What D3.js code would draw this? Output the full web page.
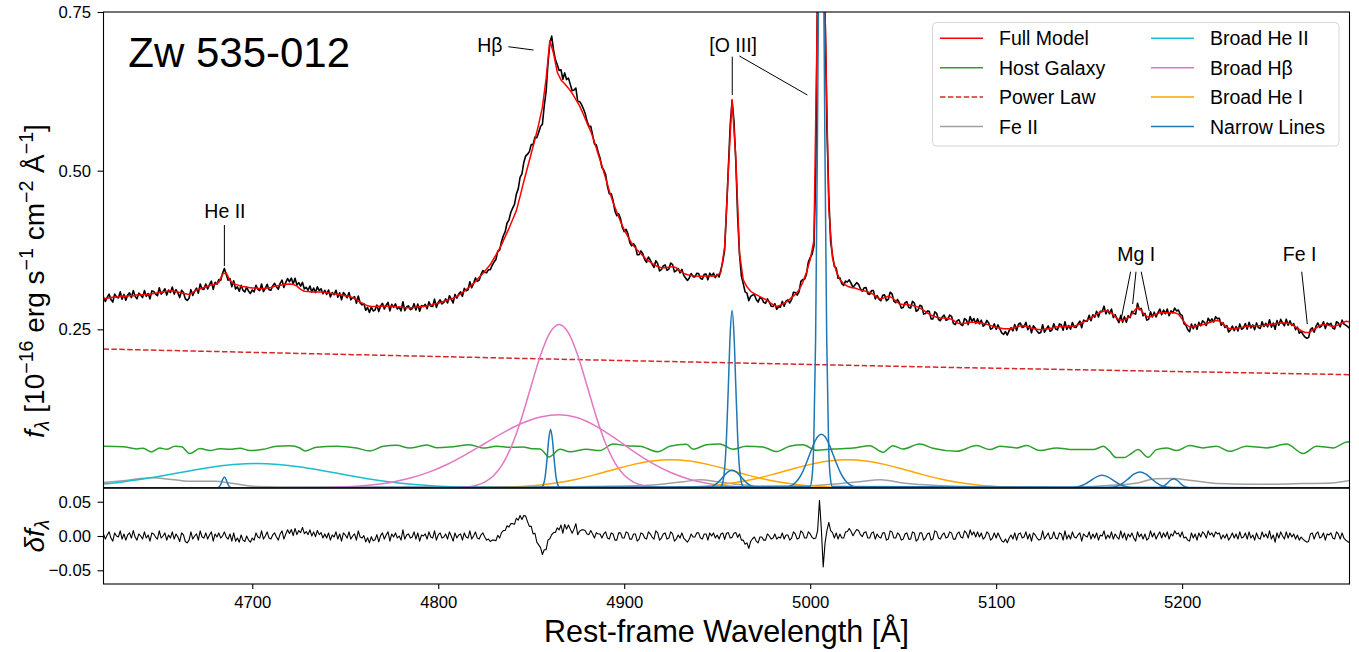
<!DOCTYPE html>
<html><head><meta charset="utf-8">
<script src="https://cdn.jsdelivr.net/npm/d3@7"></script>
<style>
body{margin:0;background:#fff}
svg{display:block}
text{font-family:"Liberation Sans",Arial,Helvetica,sans-serif;fill:#000}
</style>
</head><body>
<svg id="chart" width="1359" height="652"></svg>
<script>
// ---------------- DATA ----------------
// observed spectrum and residuals: regular 1 A grid starting at 4620 A
const specStart = 4620, specStep = 1;
const flux = [
.301,.294,.3005,.3055,.297,.293,.3055,.301,.2995,.309,
.2975,.305,.296,.304,.3075,.300,.311,.302,.298,.307,
.304,.300,.311,.302,.3065,.298,.3105,.3095,.3055,.303,
.3155,.3055,.309,.314,.304,.312,.308,.3165,.3055,.3125,
.3075,.300,.3115,.308,.298,.2955,.299,.3125,.3035,.310,
.315,.307,.3215,.3135,.313,.3215,.3135,.3205,.326,.313,
.324,.321,.3285,.327,.338,.346,.3365,.3275,.330,.317,
.3265,.3135,.317,.310,.3195,.3115,.309,.3165,.310,.3065,
.312,.309,.3195,.313,.311,.3215,.3095,.3145,.321,.3125,
.3115,.3185,.3225,.317,.313,.3225,.3275,.316,.324,.330,
.325,.3307,.3215,.3305,.320,.3235,.318,.324,.3135,.3162,
.3115,.3182,.309,.315,.308,.317,.311,.314,.306,.3115,
.305,.312,.301,.308,.3045,.3115,.3005,.3075,.2965,.308,
.3045,.2995,.308,.2965,.300,.3015,.291,.3025,.2915,.2885,
.2905,.280,.2845,.2765,.285,.279,.2805,.2882,.278,.287,
.291,.282,.288,.2925,.2791,.2893,.2845,.290,.282,.285,
.279,.2935,.2795,.2855,.287,.281,.2825,.2905,.2805,.290,
.2785,.2875,.286,.2895,.2825,.2935,.2865,.286,.2975,.2845,
.2925,.2965,.290,.2925,.298,.2915,.303,.298,.2915,.305,
.299,.3055,.309,.302,.3145,.311,.312,.325,.3155,.3225,
.331,.3255,.3275,.3365,.3425,.340,.339,.344,.344,.351,
.356,.360,.373,.3745,.388,.3975,.404,.4175,.422,.434,
.441,.447,.463,.471,.4895,.495,.513,.523,.526,.530,
.541,.541,.553,.552,.560,.5695,.573,.6025,.625,.669,
.701,.712,.690,.675,.667,.658,.659,.644,.654,.6435,
.646,.636,.626,.627,.630,.609,.609,.6045,.598,.590,
.578,.5705,.570,.5565,.542,.5405,.529,.520,.505,.501,
.494,.475,.4635,.4635,.453,.4365,.429,.432,.4245,.4105,
.404,.4075,.4005,.3865,.3815,.385,.381,.3675,.3675,.3735,
.369,.360,.3555,.364,.359,.3525,.3475,.358,.3535,.342,
.344,.350,.3515,.343,.345,.3545,.352,.3405,.3425,.346,
.339,.3445,.335,.331,.327,.331,.338,.333,.3325,.3382,
.338,.3305,.329,.3367,.337,.328,.3385,.334,.3385,.3315,
.3365,.3325,.344,.3565,.375,.437,.505,.572,.610,.579,
.515,.428,.368,.334,.322,.309,.307,.295,.302,.304,
.3045,.297,.293,.300,.2985,.2925,.291,.298,.293,.2865,
.286,.2905,.2815,.2855,.285,.294,.2865,.2945,.2965,.2915,
.297,.3085,.308,.304,.309,.3255,.3285,.329,.337,.356,
.363,.368,.381,.497,.808,1.302,1.460,1.155,.750,.568,
.460,.388,.367,.349,.3465,.3305,.331,.322,.319,.326,
.3245,.328,.3225,.316,.320,.3235,.321,.314,.310,.3155,
.316,.306,.305,.311,.311,.298,.303,.2975,.295,.3035,
.3045,.295,.2975,.3085,.306,.2945,.292,.297,.2915,.2835,
.2845,.292,.2935,.2845,.2835,.294,.2915,.2785,.2805,.288,
.2865,.274,.275,.279,.2785,.2665,.2665,.2775,.275,.2655,
.2635,.2695,.2725,.2645,.2655,.2725,.2705,.2595,.2575,.2635,
.265,.2575,.256,.267,.2645,.2575,.270,.2625,.267,.2592,
.2665,.2587,.2645,.255,.2575,.264,.260,.250,.252,.2585,
.250,.257,.2505,.2445,.242,.2465,.241,.248,.2525,.2475,
.2575,.248,.258,.260,.253,.254,.261,.2495,.256,.2445,
.2555,.252,.247,.2437,.245,.2572,.2455,.2505,.2555,.247,
.249,.2587,.2505,.2492,.2585,.2572,.2485,.262,.250,.2561,
.2502,.2608,.2535,.253,.2585,.263,.2525,.2645,.263,.263,
.272,.2635,.273,.269,.2785,.2695,.2785,.278,.2865,.2745,
.2805,.2745,.282,.2685,.273,.266,.2605,.272,.261,.270,
.261,.2715,.2685,.2785,.275,.274,.291,.281,.283,.2715,
.275,.2645,.266,.2775,.2695,.277,.2695,.2765,.282,.273,
.2805,.2745,.282,.2715,.279,.276,.2835,.279,.2805,.2735,
.272,.259,.2565,.2498,.2462,.2583,.251,.258,.250,.261,
.2555,.2635,.261,.256,.2675,.2625,.2665,.2615,.270,.2665,
.2675,.2565,.2605,.253,.256,.2458,.2491,.2553,.248,.2545,
.2475,.2585,.250,.2523,.2592,.2503,.261,.2522,.257,.2495,
.2601,.2527,.2513,.2619,.2545,.2595,.254,.265,.2535,.260,
.250,.2637,.2565,.2657,.260,.2555,.266,.2565,.2635,.256,
.259,.2495,.2535,.244,.2465,.242,.238,.236,.237,.2495,
.2525,.2455,.255,.260,.253,.2552,.262,.2512,.260,.2575,
.2595,.252,.2505,.262,.260,.254,.2645,.2583,.2566,.2543,
.252];

const residual = [
.003,-.0045,.0015,.006,-.003,-.0075,.0045,0,-.0015,.0075,
-.0045,.003,-.006,.0015,.0045,-.003,.008,-.0015,-.006,.003,
0,-.0045,.006,-.003,.0015,-.0075,.0045,.003,-.0015,-.0045,
.0075,-.003,0,.0045,-.006,.0015,-.003,.006,-.0045,.003,
-.0015,-.008,.0045,.0015,-.008,-.010,-.006,.006,-.0045,0,
.003,-.006,.0075,-.0015,-.003,.0045,-.0045,.0015,.006,-.0075,
.003,-.0015,.0045,-.003,0,.006,-.0015,-.0045,.003,-.0075,
.0045,-.0075,-.003,-.009,.0015,-.006,-.008,0,-.006,-.009,
-.003,-.006,.0045,-.0015,-.003,.0075,-.0045,0,.006,-.003,
-.0045,.0015,.0045,-.0015,-.006,.003,.0075,-.0045,.003,.009,
.0035,.0095,.0005,.011,.002,.008,.005,.0125,.0035,.0065,
.002,.009,0,.006,-.001,.008,.002,.005,-.003,.003,
-.003,.0045,-.006,.0015,-.0015,.006,-.0045,.003,-.0075,.0045,
.0015,-.003,.006,-.0045,0,.003,-.006,.0075,-.0015,-.003,
.0005,-.0085,-.0025,-.010,-.001,-.007,-.0055,.002,-.0085,.0005,
.0045,-.0045,.0015,.006,-.0075,.003,-.0015,.0045,-.003,0,
-.006,.009,-.0045,.0015,.003,-.003,-.0015,.006,-.0045,.0045,
-.0075,.0015,0,.003,-.0045,.006,-.0015,-.003,.0075,-.006,
.0015,.0045,-.003,-.0015,.003,-.0045,.006,0,-.0075,.0045,
-.003,.0015,.003,-.006,.0045,-.0015,-.003,.0075,-.0045,0,
.006,-.003,-.0045,.0015,.0045,-.0015,-.006,-.0045,-.008,-.006,
-.006,-.007,.001,-.003,.005,.008,.008,.015,.013,.018,
.018,.017,.026,.023,.030,.024,.030,.029,.021,.014,
.014,.003,.004,-.009,-.013,-.017,-.027,-.020,-.020,-.006,
-.004,.002,.005,.005,.012,.009,.016,.004,.017,.010,
.016,.010,.004,.010,.018,.002,.007,.009,.009,.008,
.003,.002,.008,.003,-.003,.005,.003,.003,-.003,.003,
.006,-.003,-.0045,.0045,.003,-.006,-.006,.0045,.0045,-.003,
-.003,.006,.0045,-.0045,-.0045,.003,.003,-.0075,-.0045,.0045,
.003,-.003,-.0045,.006,.003,-.0015,-.0045,.0075,.0045,-.006,
-.003,.003,.0045,-.0045,-.003,.006,.003,-.0075,-.0045,.0015,
-.003,.0045,-.003,-.006,-.009,-.0045,.003,-.0015,-.0015,.0045,
.0045,-.003,-.0045,.003,.003,-.006,.0045,0,.0045,-.003,
.0015,-.0045,.003,.0045,-.005,.004,.005,-.003,-.002,.004,
.005,-.002,.003,-.006,-.006,-.012,-.010,-.018,-.008,-.004,
-.0015,-.0075,-.010,-.0015,-.0015,-.006,-.006,.003,0,-.0045,
-.003,.003,-.0045,-.0015,-.003,.0045,-.0045,.0015,.0015,-.006,
-.003,.006,.003,-.0045,-.003,.0075,.0045,-.003,-.003,.006,
.003,-.002,-.004,-.003,.008,.052,.010,-.045,-.010,.008,
.020,.008,.005,-.003,.0045,-.0045,.003,-.003,-.003,.006,
.0065,.011,.0065,.0005,.005,.0095,.008,.002,-.001,.005,
.006,-.003,-.003,.0045,.006,-.0045,.003,-.0015,-.003,.0045,
.0045,-.006,-.0045,.0075,.006,-.003,-.003,.0045,.0015,-.006,
-.0045,.003,.0045,-.0045,-.0045,.006,.0045,-.0075,-.0045,.0045,
.0045,-.006,-.003,.003,.0045,-.006,-.0045,.0075,.006,-.003,
-.0045,.0015,.0045,-.003,-.0015,.006,.0045,-.0045,-.0045,.003,
.006,-.0015,-.003,.0075,.0045,-.003,.009,.0015,.006,-.0015,
.006,-.0015,.0045,-.0045,-.0015,.006,.003,-.006,-.003,.0045,
-.003,.0045,-.0015,-.007,-.009,-.0045,-.010,-.003,.0015,-.0045,
.0045,-.006,.003,.0045,-.003,-.0015,.006,-.0045,.003,-.0075,
.0045,.0015,-.003,-.006,-.0045,.0075,-.0045,0,.0045,-.0045,
-.003,.006,-.003,-.0045,.0045,.003,-.006,.0075,-.0045,.0015,
-.0045,.006,-.0015,-.003,.0015,.0045,-.0075,.003,0,-.0015,
.006,-.0045,.003,-.003,.0045,-.006,.0015,0,.0075,-.0045,
.0015,-.003,.006,-.0045,.003,-.0015,-.0045,.0075,-.003,.0045,
-.006,.003,-.0015,.0045,-.003,-.0075,.006,-.0015,.003,-.0045,
.003,-.006,-.003,.0075,-.0015,.0045,-.0045,.0015,.006,-.003,
.0045,-.0015,.006,-.0045,.003,0,.0075,.003,.0045,-.0015,
.006,-.003,-.0015,-.006,-.0075,.0045,-.003,.003,-.006,.0045,
-.0015,.006,.003,-.003,.0075,.0015,.0045,-.0015,.006,.003,
.0045,-.0045,.0015,-.003,.003,-.006,-.0015,.0045,-.003,.003,
-.0045,.006,-.003,-.0015,.0045,-.0045,.006,-.003,.0015,-.006,
.0045,-.003,-.0045,.006,-.0015,.003,-.003,.0075,-.0045,.0015,
-.009,.0045,-.003,.006,0,-.0045,.006,-.003,.0045,-.0015,
.003,-.0045,.0015,-.006,-.0015,-.0045,-.007,-.009,-.008,.003,
.0045,-.0045,.003,.006,-.003,-.0015,.0045,-.006,.003,.0015,
.0045,-.003,-.0045,.006,.003,-.0045,.0045,-.003,-.006,-.008,
-.010];

// full model: regular 2 A grid starting at 4620 A
const modelStart = 4620, modelStep = 2;
const model = [
.298,.299,.300,.301,.301,.302,.302,.303,.303,.304,
.304,.305,.305,.306,.307,.308,.309,.310,.311,.310,
.309,.307,.306,.305,.308,.312,.314,.316,.318,.320,
.321,.324,.337,.339,.327,.322,.320,.318,.317,.316,
.315,.315,.314,.314,.315,.316,.318,.319,.320,.321,
.3215,.321,.318,.313,.310,.3095,.309,.309,.309,.309,
.308,.307,.306,.305,.304,.303,.302,.300,.297,.293,
.290,.287,.286,.286,.2865,.2865,.2865,.2866,.286,.285,
.285,.284,.284,.284,.285,.286,.286,.287,.288,.290,
.291,.293,.295,.297,.299,.302,.306,.310,.315,.320,
.325,.332,.338,.345,.352,.362,.372,.383,.396,.409,
.423,.437,.4595,.483,.505,.527,.549,.573,.600,.645,
.705,.685,.655,.643,.637,.630,.622,.612,.602,.589,
.575,.562,.545,.526,.508,.488,.468,.450,.435,.420,
.407,.396,.386,.378,.372,.366,.360,.356,.352,.349,
.347,.347,.348,.349,.347,.342,.338,.336,.335,.334,
.3335,.3335,.334,.334,.334,.335,.340,.380,.500,.612,
.520,.370,.328,.317,.310,.306,.303,.300,.297,.293,
.289,.286,.288,.291,.295,.300,.305,.312,.324,.340,
.360,.390,.780,1.40,.750,.440,.362,.342,.328,.322,
.318,.316,.315,.313,.311,.310,.308,.305,.300,.298,
.300,.302,.300,.295,.290,.289,.289,.288,.287,.285,
.282,.278,.274,.271,.269,.268,.268,.267,.266,.262,
.259,.259,.260,.261,.261,.2605,.260,.259,.257,.255,
.253,.252,.251,.251,.251,.253,.255,.256,.255,.253,
.251,.250,.2495,.250,.251,.252,.2535,.254,.2545,.2545,
.2547,.255,.257,.260,.263,.266,.270,.274,.277,.279,
.279,.276,.270,.265,.264,.267,.270,.278,.285,.280,
.272,.269,.271,.274,.276,.276,.276,.276,.276,.274,
.266,.258,.2537,.254,.256,.257,.258,.260,.262,.264,
.263,.259,.253,.2506,.251,.252,.253,.2547,.255,.2555,
.2556,.2558,.256,.257,.258,.259,.2595,.260,.260,.259,
.256,.252,.248,.245,.245,.248,.252,.256,.2575,.257,
.255,.255,.257,.260,.2626,.262];

// Power law continuum
const powerLawWave = [4620, 4855, 5075, 5290];
const powerLawFlux = [0.219, 0.2035, 0.190, 0.1786];

// Host galaxy
const hostWave = [4620,4630.6,4637.7,4641.3,4645.8,4650.3,4653.9,4658.4,4662,4666.4,4671.8,4677.2,4682.6,4688,4693.3,4698.7,4705.9,4713,4720.2,4725.6,4728.3,4734.5,4745.3,4756,4763.2,4770.4,4777.5,4784.7,4790,4793.6,4799,4806.2,4817,4824,4831.3,4838.5,4845.6,4850,4854.7,4859.7,4865.4,4870.8,4879.7,4886.9,4894,4901.2,4908.4,4918.2,4924.5,4933.5,4937,4944.2,4951.4,4958.5,4965.6,4974.6,4981.7,4988.9,4996.1,5003.3,5012.3,5023,5032,5039.1,5044.5,5049.9,5058.8,5066,5078.7,5089.5,5096.6,5102,5111,5116.4,5123.5,5132.5,5141.4,5152.2,5157.6,5161,5164.5,5169,5172.5,5176.3,5181.7,5186.2,5191.6,5197,5204.1,5211.3,5218.5,5225.6,5234.6,5245.4,5256.2,5265.1,5272.3,5281.2,5288.4,5290];
const hostFlux = [.0657,.0651,.0616,.0627,.0568,.063,.061,.0657,.065,.0542,.0621,.059,.062,.061,.0627,.059,.061,.0657,.0667,.063,.0584,.0641,.0657,.063,.0584,.0657,.0672,.063,.0657,.0678,.0636,.0646,.0683,.063,.0657,.0641,.0646,.062,.0615,.049,.061,.057,.061,.059,.0694,.0667,.0657,.057,.0657,.0688,.061,.068,.0693,.061,.0657,.0646,.0574,.0657,.068,.0595,.0615,.063,.0667,.0563,.0667,.0615,.0694,.0625,.0578,.0668,.0605,.0657,.0632,.0668,.0589,.0632,.0605,.0605,.0657,.058,.048,.048,.054,.0605,.0484,.0605,.0632,.0589,.0668,.0632,.0657,.0578,.0657,.0632,.0694,.0542,.0657,.0632,.0726,.073];

// Fe II
const feWave = [4620,4632,4646,4658,4668,4680,4690,4702,4730,4800,4860,4900,4920,4932,4941,4950,4960,4976,4994,5012,5026,5038,5050,5062,5075,5090,5110,5140,5160,5176,5186,5195,5205,5220,5235,5250,5265,5280,5290];
const feFlux = [.0085,.012,.016,.013,.0105,.0105,.007,.0025,.0015,.0015,.0018,.003,.006,.010,.013,.010,.006,.003,.003,.006,.010,.013,.008,.005,.003,.002,.0015,.0015,.004,.008,.0145,.015,.012,.007,.006,.006,.007,.008,.012];

// Broad He II
const heIIBroadWave = [4620,4630,4642,4654,4666,4678,4690,4702,4714,4726,4738,4750,4762,4774,4786,4798,4810,4822,4840,4860,5290];
const heIIBroadFlux = [.0061,.0093,.0144,.0204,.0269,.0328,.0369,.0385,.0371,.0331,.0273,.0209,.0147,.0096,.0058,.0033,.0017,.0008,.0002,0,0];

// Broad H-beta (two components)
const hbBroad1Wave = [4620,4805,4815,4820,4825,4830,4835,4840,4845,4850,4855,4860,4865,4870,4875,4880,4885,4890,4895,4900,4905,4910,4915,4925,5290];
const hbBroad1Flux = [0,.0001,.0014,.0038,.0092,.0201,.0396,.0702,.1120,.1612,.2091,.2444,.2575,.2444,.2091,.1612,.1120,.0702,.0396,.0201,.0092,.0038,.0014,.0001,0];
const hbBroad2Wave = [4620,4725,4745,4765,4775,4785,4795,4805,4815,4825,4835,4845,4855,4865,4875,4885,4895,4905,4915,4925,4935,4945,4955,4965,4985,5290];
const hbBroad2Flux = [0,.0003,.0013,.0051,.0092,.0156,.025,.0375,.053,.0701,.0873,.102,.112,.1156,.1107,.0972,.0784,.0578,.0392,.0244,.0139,.0072,.0035,.0015,.0002,0];

// Broad He I (two lines)
const heI1Wave = [4620,4805,4825,4835,4845,4855,4865,4875,4885,4895,4905,4915,4925,4935,4945,4955,4965,4975,4985,4995,5005,5015,5025,5045,5290];
const heI1Flux = [0,.0001,.0005,.0011,.0024,.0047,.0085,.0142,.0215,.0296,.0372,.0427,.0447,.0427,.0372,.0296,.0215,.0142,.0085,.0047,.0024,.0011,.0005,.0001,0];
const heI2Wave = [4620,4900,4920,4930,4940,4950,4960,4970,4980,4990,5000,5010,5020,5030,5040,5050,5060,5070,5080,5090,5100,5110,5120,5140,5290];
const heI2Flux = [0,.0001,.0005,.0011,.0024,.0047,.0085,.0142,.0215,.0296,.0372,.0427,.0447,.0427,.0372,.0296,.0215,.0142,.0085,.0047,.0024,.0011,.0005,.0001,0];

// Narrow lines
const nHeIIWave = [4620,4680,4681,4682,4683,4684,4685,4686,4687,4688,4689,4690,5290];
const nHeIIFlux = [0,0,.0002,.0012,.0053,.0129,.0173,.0129,.0053,.0012,.0002,0,0];
const nHbWave = [4620,4854.4,4855.4,4856.4,4857.4,4858.4,4859.4,4860.4,4861.4,4862.4,4863.4,4864.4,4865.4,4866.4,5290];
const nHbFlux = [0,.0001,.0007,.0041,.0159,.0424,.0761,.0925,.0761,.0424,.0159,.0041,.0007,.0001,0];
const nO4959Wave = [4620,4951,4952,4953,4954,4955,4956,4957,4958,4959,4960,4961,4962,4963,4964,4965,5290];
const nO4959Flux = [0,.0003,.0019,.0087,.0305,.0805,.1607,.2434,.2795,.2434,.1607,.0805,.0305,.0087,.0019,.0003,0];
const wO4959Wave = [4620,4940,4944,4946,4948,4950,4952,4954,4956,4958,4960,4962,4964,4966,4968,4970,4972,4976,5290];
const wO4959Flux = [0,0,.0006,.0016,.0038,.0078,.0136,.0203,.0258,.0279,.0258,.0203,.0136,.0078,.0038,.0016,.0006,0,0];
const nO5007Wave = [4620,4999.9,5000.9,5001.9,5002.9,5003.9,5004.9,5005.9,5006.9,5007.9,5008.9,5009.9,5010.9,5011.9,5290];
const nO5007Flux = [0,.0022,.0146,.069,.232,.55,.925,1.1,.925,.55,.232,.069,.0146,.0022,0];
const wO5007Wave = [4620,4980,4986,4988,4990,4992,4994,4996,4998,5000,5002,5004,5006,5008,5010,5012,5014,5016,5018,5020,5022,5024,5026,5032,5290];
const wO5007Flux = [0,0,.0007,.0018,.0041,.0083,.0154,.0259,.0397,.0552,.070,.0807,.0846,.0807,.070,.0552,.0397,.0259,.0154,.0083,.0041,.0018,.0007,0,0];
const nMg1Wave = [4620,5135,5139,5142,5145,5148,5151,5154,5157,5160,5163,5166,5169,5172,5175,5179,5290];
const nMg1Flux = [0,0,.0002,.0009,.0027,.0065,.0121,.0176,.020,.0176,.0121,.0065,.0027,.0009,.0002,0,0];
const nMg2Wave = [4620,5155.3,5159.3,5162.3,5165.3,5168.3,5171.3,5174.3,5177.3,5180.3,5183.3,5186.3,5189.3,5192.3,5195.3,5199.3,5290];
const nMg2Flux = [0,0,.0003,.0011,.0034,.0082,.0153,.0222,.0252,.0222,.0153,.0082,.0034,.0011,.0003,0,0];
const nMg3Wave = [4620,5185.5,5187.5,5189.5,5191.5,5193.5,5195.5,5197.5,5199.5,5201.5,5203.5,5205.5,5290];
const nMg3Flux = [0,.0001,.0004,.002,.006,.0118,.0147,.0118,.006,.002,.0004,.0001,0];

// Axis ticks
const xTicks = [4700, 4800, 4900, 5000, 5100, 5200];
const yTicksTop = [0.25, 0.50, 0.75];
const yTicksBottom = [-0.05, 0.00, 0.05];

// Line identifications [label, text wavelength, text flux, segments [[w1,f1,w2,f2],...]]
const annotations = [
  ["He II", 4685.3, 0.4249, [[4685, 0.4144, 4685, 0.3498]]],
  ["Hβ", 4827.8, 0.6874, [[4837.7, 0.6953, 4851.2, 0.6901]]],
  ["[O III]", 4958.6, 0.6874, [[4958.1, 0.6796, 4958.1, 0.6192], [4961.9, 0.6807, 4998.5, 0.6192]]],
  ["Mg I", 5175.3, 0.3581, [[5172.3, 0.3408, 5167.5, 0.2699], [5175.2, 0.3408, 5173.4, 0.2899], [5178, 0.3408, 5182.3, 0.2789]]],
  ["Fe I", 5263.2, 0.3581, [[5264.3, 0.3408, 5267.3, 0.2584]]]
];

// ---------------- DRAWING ----------------
const svg = d3.select("#chart");
const L = 103.5, R = 1349.5, T = 12, M = 488, B = 584;
const x = d3.scaleLinear().domain([4620, 5290]).range([L, R]);
const y = d3.scaleLinear().domain([0, 0.75]).range([M, T]);
const yr = d3.scaleLinear().domain([-0.07, 0.07]).range([B, M]);

const defs = svg.append("defs");
defs.append("clipPath").attr("id", "clipTop").append("rect").attr("x", L).attr("y", T).attr("width", R - L).attr("height", M - T);
defs.append("clipPath").attr("id", "clipBot").append("rect").attr("x", L).attr("y", M).attr("width", R - L).attr("height", B - M);

const specWave = flux.map((_, i) => specStart + i * specStep);
const modelWave = model.map((_, i) => modelStart + i * modelStep);
const lineLin = d3.line().x(d => x(d[0])).y(d => y(d[1]));
const lineSmooth = d3.line().x(d => x(d[0])).y(d => y(d[1])).curve(d3.curveMonotoneX);

const gTop = svg.append("g").attr("clip-path", "url(#clipTop)");
function draw(g, gen, w, f, color, width, dash) {
  const p = g.append("path").datum(d3.zip(w, f)).attr("d", gen)
    .attr("fill", "none").attr("stroke", color).attr("stroke-width", width)
    .attr("stroke-linejoin", "round").attr("stroke-linecap", "butt");
  if (dash) p.attr("stroke-dasharray", dash);
  return p;
}

const C = {
  model: "#ff0000", host: "#2ca02c", pl: "#d62728", fe: "#a0a0a0",
  heII: "#17becf", hb: "#e377c2", heI: "#ffa500", narrow: "#1f77b4"
};

draw(gTop, lineLin, specWave, flux, "#000", 1.6);
draw(gTop, lineLin, modelWave, model, C.model, 1.5);
draw(gTop, lineSmooth, hostWave, hostFlux, C.host, 1.5);
draw(gTop, lineLin, powerLawWave, powerLawFlux, C.pl, 1.5, "5.5,2.4");
draw(gTop, lineSmooth, feWave, feFlux, C.fe, 1.5);
draw(gTop, lineSmooth, heIIBroadWave, heIIBroadFlux, C.heII, 1.5);
draw(gTop, lineSmooth, hbBroad1Wave, hbBroad1Flux, C.hb, 1.5);
draw(gTop, lineSmooth, hbBroad2Wave, hbBroad2Flux, C.hb, 1.5);
draw(gTop, lineSmooth, heI1Wave, heI1Flux, C.heI, 1.5);
draw(gTop, lineSmooth, heI2Wave, heI2Flux, C.heI, 1.5);
[[nHeIIWave, nHeIIFlux], [nHbWave, nHbFlux], [nO4959Wave, nO4959Flux], [wO4959Wave, wO4959Flux],
 [nO5007Wave, nO5007Flux], [wO5007Wave, wO5007Flux], [nMg1Wave, nMg1Flux], [nMg2Wave, nMg2Flux], [nMg3Wave, nMg3Flux]]
  .forEach(([w, f]) => draw(gTop, lineSmooth, w, f, C.narrow, 1.5));

// residual panel
const gBot = svg.append("g").attr("clip-path", "url(#clipBot)");
gBot.append("path").datum(d3.zip(specWave, residual))
  .attr("d", d3.line().x(d => x(d[0])).y(d => yr(d[1])))
  .attr("fill", "none").attr("stroke", "#000").attr("stroke-width", 1.1).attr("stroke-linejoin", "round");

// frames
svg.append("rect").attr("x", L).attr("y", T).attr("width", R - L).attr("height", M - T).attr("fill", "none").attr("stroke", "#000").attr("stroke-width", 1.1);
svg.append("rect").attr("x", L).attr("y", M).attr("width", R - L).attr("height", B - M).attr("fill", "none").attr("stroke", "#000").attr("stroke-width", 1.1);

// axes
const tickFont = "16.7px";
function styleAxis(g) {
  g.select(".domain").remove();
  g.selectAll(".tick line").attr("stroke", "#000").attr("stroke-width", 1.1);
  g.selectAll(".tick text").attr("font-size", tickFont).attr("font-family", "Liberation Sans, Arial, sans-serif");
}
const xAxis = svg.append("g").attr("transform", `translate(0,${B})`)
  .call(d3.axisBottom(x).tickValues(xTicks).tickFormat(d3.format("d")).tickSize(5).tickPadding(7.5));
styleAxis(xAxis);
const yAxisTop = svg.append("g").attr("transform", `translate(${L},0)`)
  .call(d3.axisLeft(y).tickValues(yTicksTop).tickFormat(d3.format(".2f")).tickSize(6).tickPadding(6.5));
styleAxis(yAxisTop);
const yAxisBot = svg.append("g").attr("transform", `translate(${L},0)`)
  .call(d3.axisLeft(yr).tickValues(yTicksBottom).tickFormat(d3.format(".2f")).tickSize(6).tickPadding(6.5));
styleAxis(yAxisBot);

// annotations
const ann = svg.append("g");
annotations.forEach(([label, tw, tf, segs]) => {
  ann.append("text").attr("x", x(tw)).attr("y", y(tf)).attr("text-anchor", "middle")
    .attr("font-size", "19.5px").text(label);
  segs.forEach(s => ann.append("line").attr("x1", x(s[0])).attr("y1", y(s[1])).attr("x2", x(s[2])).attr("y2", y(s[3]))
    .attr("stroke", "#000").attr("stroke-width", 1));
});

// title
svg.append("text").attr("x", 128.3).attr("y", 66.7).attr("font-size", "42px").text("Zw 535-012");

// axis labels
svg.append("text").attr("x", (L + R) / 2).attr("y", 642).attr("text-anchor", "middle")
  .attr("font-size", "30.5px").text("Rest-frame Wavelength [Å]");

const yl = svg.append("text").attr("transform", "translate(43.5,281) rotate(-90)").attr("text-anchor", "middle").attr("font-size", "28px");
yl.append("tspan").attr("font-style", "italic").text("f");
yl.append("tspan").attr("font-style", "italic").attr("font-size", "19.6px").attr("dy", "5").text("λ");
yl.append("tspan").attr("dy", "-5").text(" [10");
yl.append("tspan").attr("font-size", "19.6px").attr("dy", "-11").text("−16");
yl.append("tspan").attr("dy", "11").text(" erg s");
yl.append("tspan").attr("font-size", "19.6px").attr("dy", "-11").text("−1");
yl.append("tspan").attr("dy", "11").text(" cm");
yl.append("tspan").attr("font-size", "19.6px").attr("dy", "-11").text("−2");
yl.append("tspan").attr("dy", "11").text(" Å");
yl.append("tspan").attr("font-size", "19.6px").attr("dy", "-11").text("−1");
yl.append("tspan").attr("dy", "11").text("]");

const yl2 = svg.append("text").attr("transform", "translate(44,536) rotate(-90)").attr("text-anchor", "middle").attr("font-size", "28px");
yl2.append("tspan").attr("font-style", "italic").text("δf");
yl2.append("tspan").attr("font-style", "italic").attr("font-size", "19.6px").attr("dy", "5").text("λ");

// legend
const legendItems = [
  ["Full Model", C.model, null], ["Host Galaxy", C.host, null], ["Power Law", C.pl, "5.5,2.4"], ["Fe II", C.fe, null],
  ["Broad He II", C.heII, null], ["Broad Hβ", C.hb, null], ["Broad He I", C.heI, null], ["Narrow Lines", C.narrow, null]
];
const lg = svg.append("g");
lg.append("rect").attr("x", 932.5).attr("y", 22.5).attr("width", 406.5).attr("height", 123.5).attr("rx", 4)
  .attr("fill", "#fff").attr("fill-opacity", 0.8).attr("stroke", "#d6d6d6").attr("stroke-width", 1);
legendItems.forEach(([label, color, dash], i) => {
  const col = Math.floor(i / 4), row = i % 4;
  const x0 = col === 0 ? 940 : 1151, tx = col === 0 ? 999 : 1210;
  const cy = 38.3 + row * 29.4;
  const ln = lg.append("line").attr("x1", x0).attr("x2", x0 + 43).attr("y1", cy).attr("y2", cy)
    .attr("stroke", color).attr("stroke-width", 1.5);
  if (dash) ln.attr("stroke-dasharray", dash);
  lg.append("text").attr("x", tx).attr("y", cy + 7).attr("font-size", "19.5px").text(label);
});
</script>
</body></html>
